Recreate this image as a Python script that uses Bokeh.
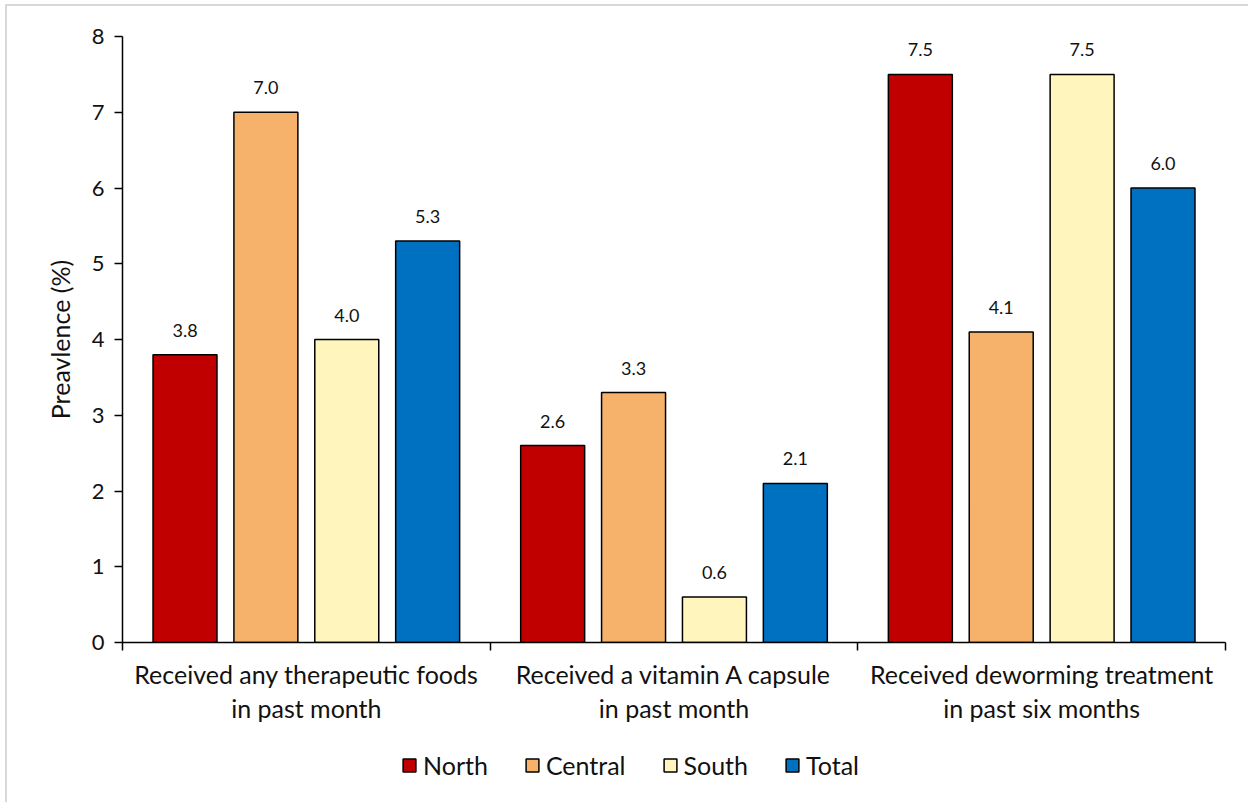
from bokeh.plotting import figure
from bokeh.models import (FixedTicker, Legend, LegendItem, ColumnDataSource, Range1d,
                          LinearAxis)
from bokeh.layouts import column
from bokeh.core.properties import value
from bokeh.embed import file_html
from bokeh.resources import INLINE

cat_line1 = ["Received any therapeutic foods",
             "Received a vitamin A capsule",
             "Received deworming treatment"]
cat_line2 = ["in past month", "in past month", "in past six months"]
series = ["North", "Central", "South", "Total"]
colors = ["#C00000", "#F6B26B", "#FFF5BD", "#0070C0"]
values = {
    "North":   [3.8, 2.6, 7.5],
    "Central": [7.0, 3.3, 4.1],
    "South":   [4.0, 0.6, 7.5],
    "Total":   [5.3, 2.1, 6.0],
}
y_ticks = [0, 1, 2, 3, 4, 5, 6, 7, 8]

FONT = "Lato"
TXT = "#111111"
ncat = len(cat_line1)
centers = [i + 0.5 for i in range(ncat)]

p = figure(width=1243, height=740, output_backend="svg", toolbar_location=None,
           x_range=Range1d(0, ncat), y_range=Range1d(0, 8),
           min_border_left=115, min_border_right=25, min_border_top=30, min_border_bottom=104)
p.styles = {"margin-left": "5px", "margin-top": "4px",
            "border-left": "2px solid #d9d9d9", "border-top": "2px solid #d9d9d9"}
p.outline_line_color = None
p.grid.grid_line_color = None
p.background_fill_color = "white"
p.border_fill_color = "white"

for si, s in enumerate(series):
    xs = [ci + 0.5 + (si - 1.5) * 0.22 for ci in range(ncat)]
    src = ColumnDataSource(dict(x=xs, top=values[s], lab=["%.1f" % v for v in values[s]]))
    p.vbar(x="x", top="top", width=0.174, bottom=0, source=src,
           fill_color=colors[si], line_color="black", line_width=1.5)
    p.text(x="x", y="top", text="lab", source=src, text_align="center", text_baseline="bottom",
           y_offset=-18, text_font_size="18px", text_font=value(FONT), text_color=TXT)

# x axis: first label line + boundary ticks
xa = p.xaxis[0]
xa.ticker = FixedTicker(ticks=centers, minor_ticks=[0, 1, 2, 3])
xa.major_label_overrides = {c: t for c, t in zip(centers, cat_line1)}
xa.major_tick_out = 0
xa.major_tick_in = 0
xa.minor_tick_out = 8
xa.minor_tick_in = 0
xa.minor_tick_line_color = "black"
xa.axis_line_color = "black"
xa.axis_line_width = 1.5
xa.minor_tick_line_width = 1.5
xa.major_label_text_font = FONT
xa.major_label_text_font_size = "25px"
xa.major_label_text_color = TXT
xa.major_label_standoff = 8

# second label line
xa2 = LinearAxis(ticker=FixedTicker(ticks=centers))
xa2.major_label_overrides = {c: t for c, t in zip(centers, cat_line2)}
xa2.axis_line_color = None
xa2.major_tick_line_color = None
xa2.minor_tick_line_color = None
xa2.major_tick_out = 0
xa2.major_tick_in = 0
xa2.major_label_text_font = FONT
xa2.major_label_text_font_size = "25px"
xa2.major_label_text_color = TXT
xa2.major_label_standoff = 1
p.add_layout(xa2, "below")

ya = p.yaxis[0]
ya.ticker = FixedTicker(ticks=y_ticks)
ya.minor_tick_line_color = None
ya.major_tick_out = 8
ya.major_tick_in = 0
ya.axis_line_color = "black"
ya.axis_line_width = 1.5
ya.major_tick_line_width = 1.5
ya.major_label_text_font = FONT
ya.major_label_text_font_size = "22px"
ya.major_label_text_color = TXT
ya.major_label_standoff = 10
ya.axis_label = "Preavlence (%)"
ya.axis_label_text_font = FONT
ya.axis_label_text_font_size = "25px"
ya.axis_label_text_font_style = "normal"
ya.axis_label_text_color = TXT
ya.axis_label_standoff = 14

# legend figure (its bars have no drawable height; only the legend shows)
lf = figure(width=1243, height=58, output_backend="svg", toolbar_location=None,
            x_range=Range1d(0, 1), y_range=Range1d(0, 1),
            min_border=0, min_border_left=0, min_border_right=0,
            min_border_top=0, min_border_bottom=0)
lf.styles = {"margin-left": "5px", "border-left": "2px solid #d9d9d9"}
lf.axis.visible = False
lf.grid.grid_line_color = None
lf.outline_line_color = None
items = []
for si, s in enumerate(series):
    r = lf.vbar(x=[float("nan")], top=[float("nan")], bottom=[float("nan")], width=0.1,
                fill_color=colors[si], line_color="black", line_width=1.5)
    items.append(LegendItem(label=s, renderers=[r]))
legend = Legend(items=items, orientation="horizontal", location=(279, 22),
                glyph_width=16, glyph_height=16, label_text_font=FONT,
                label_text_font_size="25px", label_text_color=TXT,
                spacing=36, label_standoff=6,
                border_line_color=None, background_fill_alpha=0, margin=0, padding=0)
lf.add_layout(legend, "center")

layout = column(p, lf, spacing=0)
open("out.html", "w").write(file_html(layout, INLINE))
